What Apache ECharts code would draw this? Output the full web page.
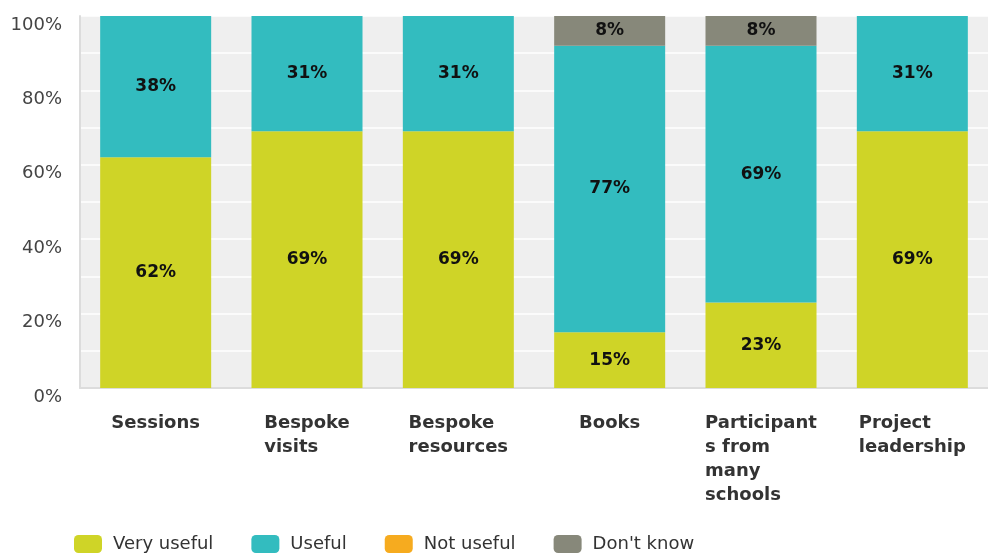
<!DOCTYPE html>
<html>
<head>
<meta charset="utf-8">
<script src="https://cdn.jsdelivr.net/npm/echarts@6/dist/echarts.min.js"></script>
<style>
  html, body { margin: 0; padding: 0; background: #ffffff; }
  #chart { width: 988px; height: 553px; }
</style>
</head>
<body>
<div id="chart"></div>
<script>
// Survey: how useful each part of the programme was (percent of respondents)
const categories = [
  'Sessions',
  'Bespoke\nvisits',
  'Bespoke\nresources',
  'Books',
  'Participant\ns from\nmany\nschools',
  'Project\nleadership'
];
const veryUseful = [62, 69, 69, 15, 23, 69];
const useful     = [38, 31, 31, 77, 69, 31];
const notUseful  = [0, 0, 0, 0, 0, 0];
const dontKnow   = [0, 0, 0, 8, 8, 0];
const seriesNames = ['Very useful', 'Useful', 'Not useful', "Don't know"];
const seriesColors = ['#cfd427', '#33bcbf', '#f6ab1f', '#87887a'];

const FONT = 'DejaVu Sans';

function makeSeries(name, values, color) {
  return {
    name: name,
    type: 'bar',
    stack: 'total',
    barWidth: 111,
    data: values,
    itemStyle: { color: color },
    label: {
      show: true,
      position: 'inside',
      fontFamily: FONT,
      fontWeight: 'bold',
      fontSize: 17,
      color: '#111111',
      formatter: p => (p.value ? p.value + '%' : '')
    }
  };
}

const chart = echarts.init(document.getElementById('chart'), null, { renderer: 'canvas' });
chart.setOption({
  animation: false,
  backgroundColor: '#ffffff',
  grid: {
    left: 80,
    top: 16,
    width: 922,
    height: 372,
    show: true,
    backgroundColor: '#efefef',
    borderWidth: 0,
    containLabel: false
  },
  legend: {
    left: 74,
    top: 535,
    padding: 0,
    itemWidth: 28,
    itemHeight: 18,
    itemGap: 38,
    icon: 'roundRect',
    data: seriesNames,
    textStyle: {
      fontFamily: FONT,
      fontSize: 18,
      color: '#333333',
      padding: [0, 0, 0, 6]
    }
  },
  xAxis: {
    type: 'category',
    data: categories,
    axisLine: { show: true, lineStyle: { color: '#dcdcdc', width: 2 } },
    axisTick: { show: false },
    axisLabel: {
      interval: 0,
      margin: 23,
      formatter: v => v.split('\n').map(s => '{t|' + s + '}').join('\n'),
      rich: {
        t: {
          align: 'left',
          fontFamily: FONT,
          fontWeight: 'bold',
          fontSize: 18,
          lineHeight: 24,
          color: '#333333'
        }
      }
    }
  },
  yAxis: {
    type: 'value',
    min: 0,
    max: 100,
    interval: 20,
    axisLine: { show: true, lineStyle: { color: '#dcdcdc', width: 2 } },
    axisTick: { show: false },
    axisLabel: {
      margin: 18,
      fontFamily: FONT,
      fontSize: 18,
      lineHeight: 18,
      color: '#444444',
      verticalAlign: 'top',
      formatter: v => v + '%'
    },
    splitLine: { show: true, lineStyle: { color: '#ffffff', width: 1.5 } },
    minorTick: { show: false, splitNumber: 2 },
    minorSplitLine: { show: true, lineStyle: { color: '#ffffff', width: 1.5 } }
  },
  series: [
    makeSeries(seriesNames[0], veryUseful, seriesColors[0]),
    makeSeries(seriesNames[1], useful, seriesColors[1]),
    makeSeries(seriesNames[2], notUseful, seriesColors[2]),
    makeSeries(seriesNames[3], dontKnow, seriesColors[3])
  ]
});
</script>
</body>
</html>
